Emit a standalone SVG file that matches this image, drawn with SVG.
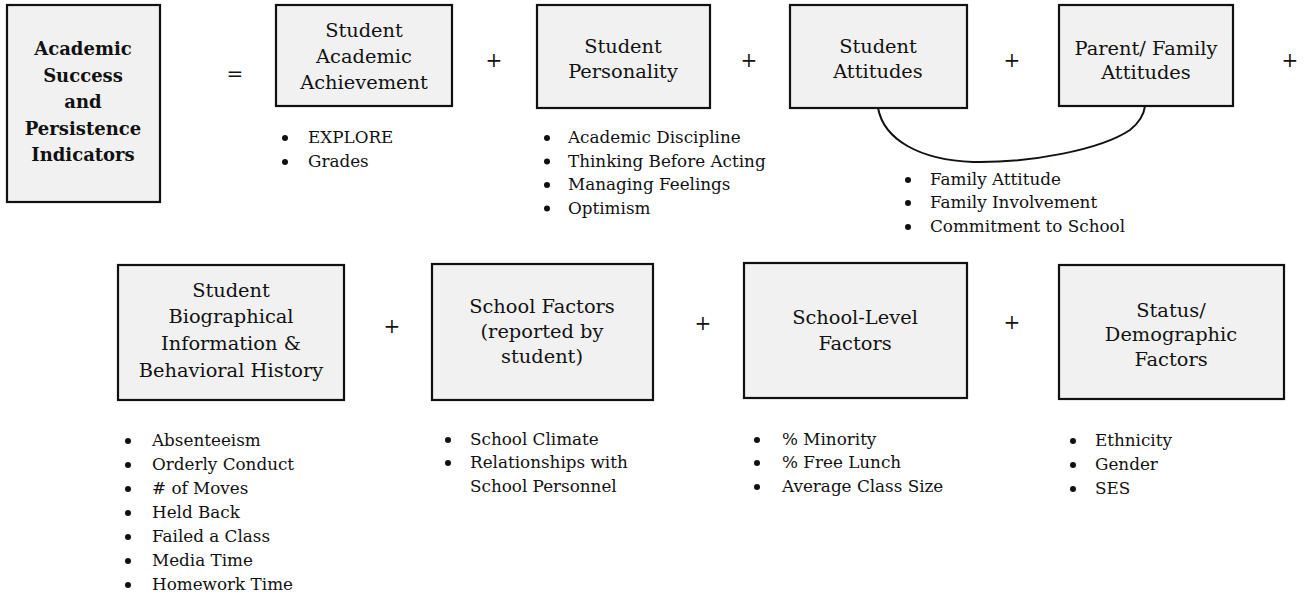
<svg xmlns="http://www.w3.org/2000/svg" width="1308" height="595" viewBox="0 0 1308 595">
<style>
.box{fill:#f1f1f1;stroke:#111;stroke-width:2.2}
.t{font-family:"DejaVu Serif","Liberation Serif",serif;font-size:19.4px;fill:#111;text-anchor:middle}
.tb{font-family:"DejaVu Serif","Liberation Serif",serif;font-size:18px;font-weight:bold;fill:#111;text-anchor:middle}
.b{font-family:"DejaVu Serif","Liberation Serif",serif;font-size:16.8px;fill:#111}
.op{font-family:"DejaVu Serif","Liberation Serif",serif;font-size:20px;fill:#111;text-anchor:middle}
.dot{fill:#111}
.link{fill:none;stroke:#111;stroke-width:2}
</style>
<rect width="1308" height="595" fill="#fff"/>

<g id="n-academic-success">
<rect class="box" x="7" y="5" width="153" height="197"/>
<text class="tb" x="83" y="55">Academic</text>
<text class="tb" x="83" y="81.5">Success</text>
<text class="tb" x="83" y="108">and</text>
<text class="tb" x="83" y="134.5">Persistence</text>
<text class="tb" x="83" y="161">Indicators</text>
</g>

<g id="n-achievement">
<rect class="box" x="276" y="5" width="176" height="101"/>
<text class="t" x="364" y="37">Student</text>
<text class="t" x="364" y="63">Academic</text>
<text class="t" x="364" y="89">Achievement</text>
<circle class="dot" cx="285" cy="138" r="3"/><text class="b" x="308" y="143">EXPLORE</text>
<circle class="dot" cx="285" cy="162" r="3"/><text class="b" x="308" y="167">Grades</text>
</g>

<g id="n-personality">
<rect class="box" x="537" y="5" width="173" height="103"/>
<text class="t" x="623" y="53">Student</text>
<text class="t" x="623" y="78">Personality</text>
<circle class="dot" cx="547" cy="138" r="3"/><text class="b" x="568" y="143">Academic Discipline</text>
<circle class="dot" cx="547" cy="161.5" r="3"/><text class="b" x="568" y="166.5">Thinking Before Acting</text>
<circle class="dot" cx="547" cy="185" r="3"/><text class="b" x="568" y="190">Managing Feelings</text>
<circle class="dot" cx="547" cy="208.5" r="3"/><text class="b" x="568" y="213.5">Optimism</text>
</g>

<g id="n-student-attitudes">
<rect class="box" x="790" y="5" width="177" height="103"/>
<text class="t" x="878" y="53">Student</text>
<text class="t" x="878" y="78">Attitudes</text>
</g>

<g id="n-family-attitudes">
<rect class="box" x="1059" y="5" width="174" height="101"/>
<text class="t" x="1146" y="55">Parent/ Family</text>
<text class="t" x="1146" y="79">Attitudes</text>
</g>

<g id="n-family-list">
<circle class="dot" cx="908" cy="180" r="3"/><text class="b" x="930" y="185">Family Attitude</text>
<circle class="dot" cx="908" cy="203" r="3"/><text class="b" x="930" y="208">Family Involvement</text>
<circle class="dot" cx="908" cy="227" r="3"/><text class="b" x="930" y="232">Commitment to School</text>
</g>

<g id="n-biographical">
<rect class="box" x="118" y="265" width="226" height="135"/>
<text class="t" x="231" y="297">Student</text>
<text class="t" x="231" y="323">Biographical</text>
<text class="t" x="231" y="350">Information &amp;</text>
<text class="t" x="231" y="377">Behavioral History</text>
<circle class="dot" cx="128" cy="441" r="3"/><text class="b" x="152" y="446">Absenteeism</text>
<circle class="dot" cx="128" cy="465" r="3"/><text class="b" x="152" y="470">Orderly Conduct</text>
<circle class="dot" cx="128" cy="489" r="3"/><text class="b" x="152" y="494"># of Moves</text>
<circle class="dot" cx="128" cy="513" r="3"/><text class="b" x="152" y="518">Held Back</text>
<circle class="dot" cx="128" cy="537" r="3"/><text class="b" x="152" y="542">Failed a Class</text>
<circle class="dot" cx="128" cy="561" r="3"/><text class="b" x="152" y="566">Media Time</text>
<circle class="dot" cx="128" cy="585" r="3"/><text class="b" x="152" y="590">Homework Time</text>
</g>

<g id="n-school-factors">
<rect class="box" x="432" y="264" width="221" height="136"/>
<text class="t" x="542" y="313">School Factors</text>
<text class="t" x="542" y="338">(reported by</text>
<text class="t" x="542" y="363">student)</text>
<circle class="dot" cx="448" cy="440" r="3"/><text class="b" x="470" y="445">School Climate</text>
<circle class="dot" cx="448" cy="463" r="3"/><text class="b" x="470" y="468">Relationships with</text>
<text class="b" x="470" y="492">School Personnel</text>
</g>

<g id="n-school-level">
<rect class="box" x="744" y="263" width="223" height="135"/>
<text class="t" x="855" y="324">School-Level</text>
<text class="t" x="855" y="350">Factors</text>
<circle class="dot" cx="757" cy="440" r="3"/><text class="b" x="782" y="445">% Minority</text>
<circle class="dot" cx="757" cy="463" r="3"/><text class="b" x="782" y="468">% Free Lunch</text>
<circle class="dot" cx="757" cy="487" r="3"/><text class="b" x="782" y="492">Average Class Size</text>
</g>

<g id="n-demographic">
<rect class="box" x="1059" y="265" width="225" height="134"/>
<text class="t" x="1171" y="317">Status/</text>
<text class="t" x="1171" y="341">Demographic</text>
<text class="t" x="1171" y="366">Factors</text>
<circle class="dot" cx="1073" cy="441" r="3"/><text class="b" x="1095" y="446">Ethnicity</text>
<circle class="dot" cx="1073" cy="465" r="3"/><text class="b" x="1095" y="470">Gender</text>
<circle class="dot" cx="1073" cy="489" r="3"/><text class="b" x="1095" y="494">SES</text>
</g>

<g id="connectors">
<path class="link" d="M878,108 C884,140 920,160 973,162 C1030,163 1100,150 1130,130 C1140,122 1144,114 1145,106"/>
<text class="op" x="235" y="81">=</text>
<text class="op" x="494" y="67">+</text>
<text class="op" x="749" y="67">+</text>
<text class="op" x="1012" y="67">+</text>
<text class="op" x="1290" y="67">+</text>
<text class="op" x="392" y="333">+</text>
<text class="op" x="703" y="330">+</text>
<text class="op" x="1012" y="329">+</text>
</g>
</svg>
